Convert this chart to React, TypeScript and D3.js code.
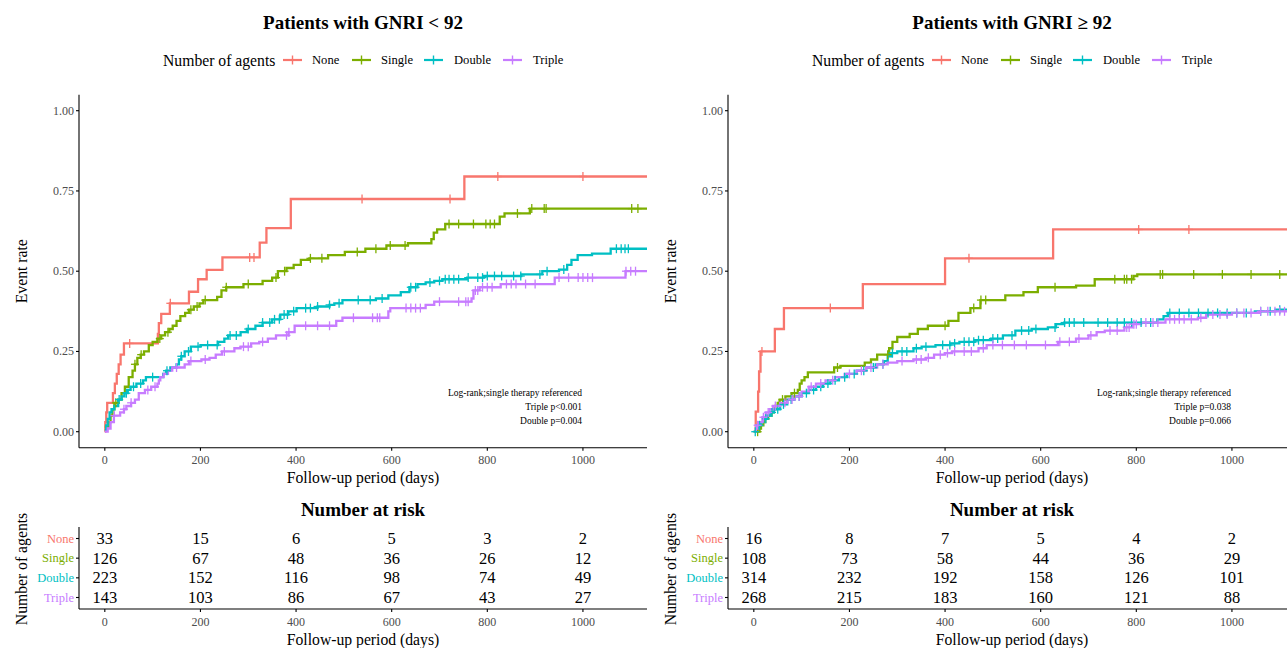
import React from "react";
import * as d3 from "d3";

const groups = ["None", "Single", "Double", "Triple"];
const colors = ["#F8766D", "#7CAE00", "#00BFC4", "#C77CFF"];
const xTicks = [0, 200, 400, 600, 800, 1000];
const yTicks = [0, 0.25, 0.5, 0.75, 1];

// ---- GNRI < 92 ----
const lowNone: [number, number][] = [[0,0],[1,0.03],[3,0.06],[5,0.09],[17,0.12],[21,0.15],[25,0.18],[29,0.21],[33,0.24],[40,0.275],[111,0.305],[113,0.338],[118,0.367],[136,0.40],[176,0.436],[195,0.475],[213,0.504],[246,0.543],[324,0.589],[338,0.634],[389,0.725],[752,0.795]];
const lowNoneCens = [52,137,303,312,538,722,822,1000];
const lowSingle: [number, number][] = [[0,0.016],[8,0.03],[12,0.05],[16,0.07],[20,0.09],[28,0.10],[35,0.12],[42,0.14],[50,0.17],[58,0.19],[63,0.21],[68,0.23],[75,0.24],[82,0.25],[92,0.27],[100,0.28],[110,0.29],[118,0.30],[126,0.31],[135,0.32],[142,0.33],[150,0.345],[158,0.36],[168,0.37],[176,0.38],[186,0.39],[198,0.40],[206,0.41],[235,0.42],[244,0.44],[254,0.45],[290,0.46],[330,0.47],[350,0.48],[362,0.50],[380,0.51],[395,0.52],[410,0.535],[428,0.54],[467,0.55],[502,0.56],[545,0.57],[589,0.58],[634,0.587],[683,0.60],[688,0.62],[695,0.63],[712,0.647],[826,0.67],[836,0.68],[889,0.695]];
const lowSingleCens = [23,63,76,115,132,180,193,210,254,300,358,376,430,454,528,567,597,628,720,740,771,797,806,815,863,893,919,923,1102,1115];
const lowDouble: [number, number][] = [[0,0.005],[3,0.02],[6,0.04],[10,0.06],[14,0.07],[20,0.08],[28,0.10],[35,0.11],[41,0.12],[48,0.13],[54,0.14],[66,0.15],[80,0.16],[86,0.17],[122,0.18],[128,0.19],[137,0.20],[150,0.21],[155,0.225],[160,0.235],[167,0.25],[180,0.265],[200,0.27],[237,0.28],[250,0.29],[258,0.30],[284,0.31],[297,0.32],[315,0.33],[330,0.34],[350,0.35],[367,0.365],[384,0.375],[401,0.385],[445,0.39],[470,0.395],[480,0.40],[497,0.41],[567,0.415],[593,0.425],[619,0.435],[637,0.45],[654,0.46],[671,0.465],[689,0.47],[706,0.475],[758,0.48],[793,0.485],[871,0.49],[915,0.50],[950,0.505],[967,0.52],[976,0.535],[989,0.55],[1019,0.555],[1058,0.57]];
const lowDoubleCens = [30,45,60,75,100,130,160,175,195,215,235,262,275,300,330,345,355,365,375,382,395,420,430,445,470,490,530,555,580,640,650,680,700,712,720,730,740,760,780,790,800,815,830,855,870,910,925,960,1070,1080,1088,1095];
const lowTriple: [number, number][] = [[0,0],[6,0.01],[12,0.03],[19,0.05],[32,0.06],[40,0.07],[45,0.08],[55,0.09],[63,0.10],[71,0.12],[84,0.13],[97,0.14],[110,0.15],[113,0.16],[116,0.17],[123,0.18],[132,0.19],[141,0.20],[167,0.21],[176,0.22],[202,0.225],[219,0.23],[232,0.24],[245,0.25],[271,0.26],[284,0.265],[306,0.275],[323,0.28],[341,0.29],[358,0.30],[384,0.31],[397,0.33],[484,0.345],[497,0.355],[593,0.375],[597,0.385],[671,0.395],[689,0.405],[767,0.415],[771,0.44],[784,0.45],[828,0.46],[941,0.48],[1089,0.50]];
const lowTripleCens = [20,40,55,90,105,150,180,210,250,290,300,330,380,385,420,445,470,520,560,570,575,630,640,650,660,700,740,755,760,775,780,790,800,810,840,850,860,880,900,950,970,990,1000,1010,1020,1090,1100,1110];

// ---- GNRI >= 92 ----
const highNone: [number, number][] = [[0,0],[4,0.0625],[9,0.125],[11,0.1875],[14,0.25],[44,0.32],[63,0.385],[228,0.46],[400,0.54],[626,0.63]];
const highNoneCens = [17,160,450,805,910];
const highSingle: [number, number][] = [[0,0],[12,0.01],[15,0.02],[20,0.03],[24,0.04],[30,0.05],[37,0.06],[42,0.07],[45,0.08],[50,0.09],[54,0.10],[66,0.11],[79,0.12],[92,0.13],[96,0.15],[100,0.16],[106,0.17],[113,0.185],[168,0.20],[181,0.205],[232,0.215],[245,0.225],[258,0.24],[283,0.26],[290,0.28],[300,0.295],[326,0.305],[343,0.32],[364,0.33],[407,0.345],[428,0.37],[453,0.385],[474,0.41],[526,0.425],[564,0.435],[594,0.45],[674,0.455],[713,0.475],[794,0.485],[802,0.49]];
const highSingleCens = [8,60,85,175,280,400,460,475,485,630,755,775,780,790,850,855,920,980,1040,1100];
const highDouble: [number, number][] = [[0,0],[5,0.01],[10,0.02],[15,0.03],[20,0.04],[28,0.05],[35,0.06],[42,0.07],[55,0.085],[70,0.10],[85,0.11],[100,0.12],[115,0.13],[130,0.14],[145,0.15],[160,0.16],[178,0.17],[195,0.18],[215,0.19],[235,0.20],[255,0.21],[272,0.22],[280,0.235],[288,0.245],[300,0.25],[334,0.26],[351,0.265],[380,0.27],[411,0.275],[430,0.28],[462,0.285],[496,0.29],[521,0.30],[547,0.315],[581,0.32],[615,0.325],[632,0.335],[649,0.34],[844,0.35],[857,0.36],[866,0.37],[1048,0.375],[1091,0.38]];
const highDoubleCens = [3,12,25,38,50,62,78,95,110,125,140,155,170,190,210,230,250,270,290,310,320,340,360,395,410,420,440,450,460,470,480,500,510,540,560,575,590,630,650,660,670,690,720,740,760,775,790,810,830,870,890,910,930,950,970,990,1010,1030,1060,1080,1100];
const highTriple: [number, number][] = [[0,0],[5,0.02],[10,0.03],[18,0.045],[25,0.06],[33,0.07],[40,0.08],[55,0.09],[70,0.10],[85,0.11],[100,0.125],[115,0.14],[130,0.15],[150,0.16],[170,0.17],[190,0.18],[215,0.19],[235,0.20],[258,0.21],[280,0.215],[300,0.22],[334,0.225],[360,0.23],[377,0.24],[400,0.245],[415,0.25],[470,0.26],[487,0.27],[636,0.28],[674,0.29],[700,0.30],[717,0.31],[734,0.315],[775,0.325],[792,0.335],[810,0.34],[861,0.35],[929,0.355],[946,0.365],[1000,0.37],[1057,0.375]];
const highTripleCens = [8,20,30,45,65,80,95,120,140,165,200,225,245,270,310,340,350,365,390,405,420,440,455,480,500,520,545,570,610,640,660,680,705,745,760,780,785,795,800,820,835,845,870,880,890,900,915,935,960,975,990,1010,1025,1040,1060,1075,1090,1100,1110];

// ---- risk tables ----
const lowRiskNone = [33, 15, 6, 5, 3, 2];
const lowRiskSingle = [126, 67, 48, 36, 26, 12];
const lowRiskDouble = [223, 152, 116, 98, 74, 49];
const lowRiskTriple = [143, 103, 86, 67, 43, 27];
const highRiskNone = [16, 8, 7, 5, 4, 2];
const highRiskSingle = [108, 73, 58, 44, 36, 29];
const highRiskDouble = [314, 232, 192, 158, 126, 101];
const highRiskTriple = [268, 215, 183, 160, 121, 88];

const lowAnnot = ["Log-rank;single therapy referenced", "Triple p<0.001", "Double p=0.004"];
const highAnnot = ["Log-rank;single therapy referenced", "Triple p=0.038", "Double p=0.066"];

const FONT = "'Liberation Serif', 'Times New Roman', serif";
const X_DOMAIN: [number, number] = [-54, 1134];
const X_END = 1134;

type PanelProps = {
  dx: number;
  title: string;
  curves: [number, number][][];
  cens: number[][];
  risk: number[][];
  annot: string[];
};

function valueAt(pts: [number, number][], t: number) {
  let v = pts[0][1];
  for (const p of pts) if (p[0] <= t) v = p[1];
  return v;
}

function Panel({ dx, title, curves, cens, risk, annot }: PanelProps) {
  const x0 = 79 + dx;
  const x1 = 647 + dx;
  const x = d3.scaleLinear().domain(X_DOMAIN).range([x0, x1]);
  const y = d3.scaleLinear().domain([0, 1]).range([431.7, 110.7]);
  const yTop = y(1.05);
  const yBot = y(-0.05);
  const cx = (x0 + x1) / 2;
  const line = d3
    .line<[number, number]>()
    .x((d) => x(d[0]))
    .y((d) => y(d[1]))
    .curve(d3.curveStepAfter);
  const rowY = d3.scalePoint<string>().domain(groups).range([538.5, 597.5]);
  const tTop = 527;
  const tBot = 609;

  const legX = 163 + dx;
  const legItems = [
    { key: 283, text: 312 },
    { key: 352, text: 381 },
    { key: 424, text: 454 },
    { key: 503, text: 533 },
  ];

  return (
    <g>
      <text x={cx} y={22} textAnchor="middle" dominantBaseline="central" fontFamily={FONT} fontWeight="bold" fontSize={19}>
        {title}
      </text>
      <text x={legX} y={60} dominantBaseline="central" fontFamily={FONT} fontSize={15.7}>
        Number of agents
      </text>
      {legItems.map((it, i) => (
        <g key={i}>
          <line x1={it.key + dx} x2={it.key + dx + 19} y1={60} y2={60} stroke={colors[i]} strokeWidth={2.2} />
          <line x1={it.key + dx + 9.5} x2={it.key + dx + 9.5} y1={55.5} y2={64.5} stroke={colors[i]} strokeWidth={1.4} />
          <text x={it.text + dx} y={60} dominantBaseline="central" fontFamily={FONT} fontSize={12.6}>
            {groups[i]}
          </text>
        </g>
      ))}

      {curves.map((pts, i) => {
        const full: [number, number][] = [...pts, [X_END, pts[pts.length - 1][1]]];
        return <path key={"c" + i} d={line(full) || ""} fill="none" stroke={colors[i]} strokeWidth={2.3} />;
      })}
      {cens.map((cs, i) =>
        cs.map((t, j) => {
          const px = x(t);
          const py = y(valueAt(curves[i], t));
          return (
            <g key={"m" + i + "-" + j} stroke={colors[i]} strokeWidth={1.3}>
              <line x1={px} x2={px} y1={py - 4.5} y2={py + 4.5} />
              <line x1={px - 4} x2={px + 4} y1={py} y2={py} />
            </g>
          );
        })
      )}

      <line x1={x0} x2={x0} y1={yTop} y2={yBot} stroke="black" strokeWidth={1.1} />
      <line x1={x0} x2={x1} y1={yBot} y2={yBot} stroke="black" strokeWidth={1.1} />
      {yTicks.map((t) => (
        <g key={"yt" + t}>
          <line x1={x0 - 3} x2={x0} y1={y(t)} y2={y(t)} stroke="black" strokeWidth={1.1} />
          <text x={x0 - 5} y={y(t)} textAnchor="end" dominantBaseline="central" fontFamily={FONT} fontSize={12} fill="#4D4D4D">
            {t.toFixed(2)}
          </text>
        </g>
      ))}
      {xTicks.map((t) => (
        <g key={"xt" + t}>
          <line x1={x(t)} x2={x(t)} y1={yBot} y2={yBot + 3} stroke="black" strokeWidth={1.1} />
          <text x={x(t)} y={yBot + 12} textAnchor="middle" dominantBaseline="central" fontFamily={FONT} fontSize={12} fill="#4D4D4D">
            {t}
          </text>
        </g>
      ))}
      <text x={cx} y={477} textAnchor="middle" dominantBaseline="central" fontFamily={FONT} fontSize={15.7}>
        Follow-up period (days)
      </text>
      <text transform={`translate(${21 + dx},${(yTop + yBot) / 2}) rotate(-90)`} textAnchor="middle" dominantBaseline="central" fontFamily={FONT} fontSize={15.7}>
        Event rate
      </text>
      {annot.map((s, i) => (
        <text key={"a" + i} x={x(1000) - 1} y={393 + i * 14} textAnchor="end" dominantBaseline="central" fontFamily={FONT} fontSize={9.5}>
          {s}
        </text>
      ))}

      <text x={cx} y={509} textAnchor="middle" dominantBaseline="central" fontFamily={FONT} fontWeight="bold" fontSize={19}>
        Number at risk
      </text>
      <line x1={x0} x2={x0} y1={tTop} y2={tBot} stroke="black" strokeWidth={1.1} />
      <line x1={x0} x2={x1} y1={tBot} y2={tBot} stroke="black" strokeWidth={1.1} />
      {groups.map((g, i) => (
        <g key={"r" + g}>
          <line x1={x0 - 3} x2={x0} y1={rowY(g)!} y2={rowY(g)!} stroke="black" strokeWidth={1.1} />
          <text x={x0 - 5} y={rowY(g)!} textAnchor="end" dominantBaseline="central" fontFamily={FONT} fontSize={12.5} fill={colors[i]}>
            {g}
          </text>
          {risk[i].map((v, j) => (
            <text key={j} x={x(xTicks[j])} y={rowY(g)!} textAnchor="middle" dominantBaseline="central" fontFamily={FONT} fontSize={16.5} fill="black">
              {v}
            </text>
          ))}
        </g>
      ))}
      {xTicks.map((t) => (
        <g key={"txt" + t}>
          <line x1={x(t)} x2={x(t)} y1={tBot} y2={tBot + 3} stroke="black" strokeWidth={1.1} />
          <text x={x(t)} y={tBot + 13} textAnchor="middle" dominantBaseline="central" fontFamily={FONT} fontSize={12} fill="#4D4D4D">
            {t}
          </text>
        </g>
      ))}
      <text x={cx} y={639} textAnchor="middle" dominantBaseline="central" fontFamily={FONT} fontSize={15.7}>
        Follow-up period (days)
      </text>
      <text transform={`translate(${21 + dx},${(tTop + tBot) / 2 + 1}) rotate(-90)`} textAnchor="middle" dominantBaseline="central" fontFamily={FONT} fontSize={15.7}>
        Number of agents
      </text>
    </g>
  );
}

export default function App() {
  return (
    <svg width={1287} height={648} style={{ position: "absolute", left: 0, top: 0, background: "white" }}>
      <rect width={1287} height={648} fill="white" />
      <Panel
        dx={0}
        title="Patients with GNRI < 92"
        curves={[lowNone, lowSingle, lowDouble, lowTriple]}
        cens={[lowNoneCens, lowSingleCens, lowDoubleCens, lowTripleCens]}
        risk={[lowRiskNone, lowRiskSingle, lowRiskDouble, lowRiskTriple]}
        annot={lowAnnot}
      />
      <Panel
        dx={649}
        title="Patients with GNRI ≥ 92"
        curves={[highNone, highSingle, highDouble, highTriple]}
        cens={[highNoneCens, highSingleCens, highDoubleCens, highTripleCens]}
        risk={[highRiskNone, highRiskSingle, highRiskDouble, highRiskTriple]}
        annot={highAnnot}
      />
    </svg>
  );
}
